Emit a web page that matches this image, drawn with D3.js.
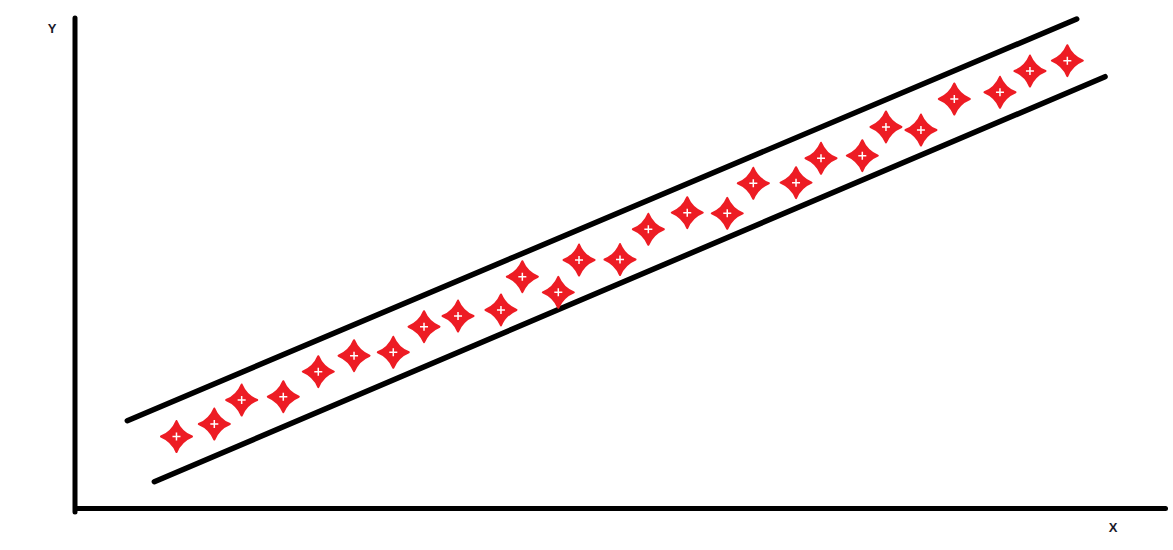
<!DOCTYPE html>
<html>
<head>
<meta charset="utf-8">
<script src="https://cdn.jsdelivr.net/npm/d3@7"></script>
<style>
  html, body { margin: 0; padding: 0; background: #fff; }
  svg { display: block; }
</style>
</head>
<body>
<svg id="chart" width="1173" height="550"></svg>
<script>
// ---- data (unitless) ----
const pointX = [9.31, 12.78, 15.29, 19.11, 22.32, 25.60, 29.20, 32.02, 35.14, 39.08,
                41.04, 44.34, 46.24, 50.00, 52.60, 56.17, 59.84, 62.23, 66.15, 68.44,
                72.23, 74.40, 77.61, 80.67, 84.86, 87.61, 91.04];
const pointY = [14.59, 17.14, 22.04, 22.71, 27.82, 31.08, 31.78, 37.00, 39.18, 40.41,
                47.20, 44.02, 50.61, 50.71, 56.88, 60.27, 60.14, 66.27, 66.39, 71.37,
                71.90, 77.76, 77.14, 83.47, 84.84, 89.18, 91.29];
const upperBoundX = [4.80, 91.90];
const upperBoundY = [17.82, 99.80];
const lowerBoundX = [7.28, 94.50];
const lowerBoundY = [5.37, 88.02];
const axisLabels = ["X", "Y"];

// ---- layout ----
const svg = d3.select("#chart");
const x = d3.scaleLinear().domain([0, 100]).range([75, 1165]);
const y = d3.scaleLinear().domain([0, 100]).range([508, 18]);

// axes (plain lines, no ticks)
const xAxis = d3.axisBottom(x).tickValues([]).tickSizeOuter(0);
const yAxis = d3.axisLeft(y).tickValues([]).tickSizeOuter(0);
const gx = svg.append("g").attr("transform", `translate(0,${y(0)})`).call(xAxis);
const gy = svg.append("g").attr("transform", `translate(${x(0)},0)`).call(yAxis);
[gx, gy].forEach(g => g.select(".domain")
  .attr("stroke", "#000").attr("stroke-width", 5).attr("stroke-linecap", "round"));
gy.select(".domain").attr("d", `M0,${y(100)}V${y(0) + 4}`);

// axis labels
svg.append("text").attr("x", 1113).attr("y", 532)
  .attr("text-anchor", "middle")
  .attr("font-family", "Liberation Sans, Arial, sans-serif")
  .attr("font-weight", "bold").attr("font-size", 13).attr("fill", "#1a1a2a")
  .text(axisLabels[0]);
svg.append("text").attr("x", 52).attr("y", 33)
  .attr("text-anchor", "middle")
  .attr("font-family", "Liberation Sans, Arial, sans-serif")
  .attr("font-weight", "bold").attr("font-size", 13).attr("fill", "#1a1a2a")
  .text(axisLabels[1]);

// boundary lines
const line = d3.line().x(d => x(d[0])).y(d => y(d[1]));
[[upperBoundX, upperBoundY], [lowerBoundX, lowerBoundY]].forEach(([xs, ys]) => {
  svg.append("path")
    .attr("d", line(d3.zip(xs, ys)))
    .attr("fill", "none").attr("stroke", "#000")
    .attr("stroke-width", 5.5).attr("stroke-linecap", "round");
});

// star markers
const starPath = "M0,-15.5 Q4.5,-4.5 15.5,0 Q4.5,4.5 0,15.5 Q-4.5,4.5 -15.5,0 Q-4.5,-4.5 0,-15.5Z";
const pts = d3.zip(pointX, pointY);
const g = svg.append("g");
const stars = g.selectAll("g.star").data(pts).join("g")
  .attr("class", "star")
  .attr("transform", d => `translate(${x(d[0])},${y(d[1])})`);
stars.append("path").attr("d", starPath).attr("fill", "#ED1C24")
  .attr("stroke", "#ED1C24").attr("stroke-width", 2).attr("stroke-linejoin", "round");
stars.append("path").attr("d", "M-4,0H4M0,-4V4")
  .attr("stroke", "#fff").attr("stroke-width", 1.5);
</script>
</body>
</html>
